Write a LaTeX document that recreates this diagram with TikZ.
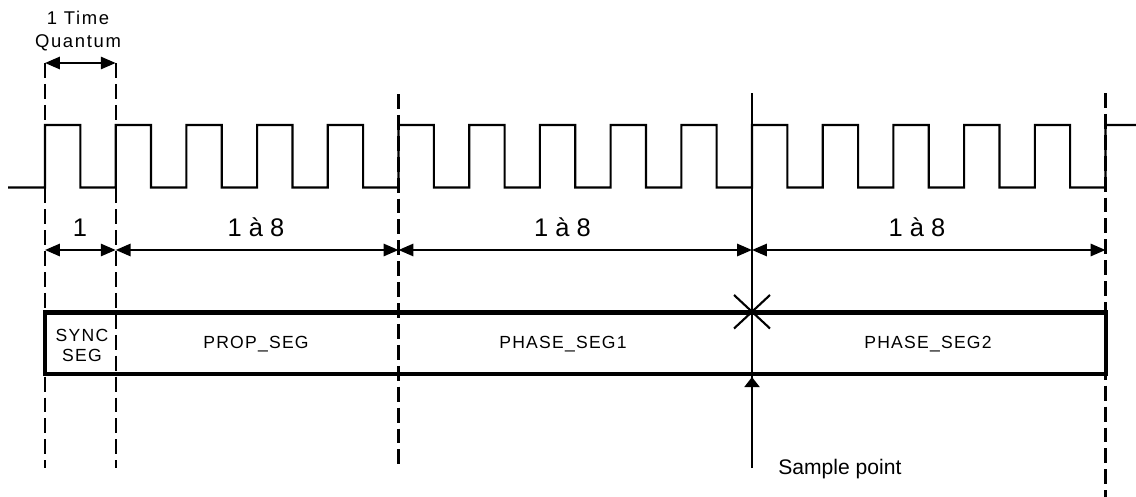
\documentclass[tikz,border=0pt]{standalone}
\usepackage{fontspec}
\setmainfont{Liberation Sans}
\newfontfamily\segfont[LetterSpace=7]{Liberation Sans}
\newfontfamily\tqfont[LetterSpace=9]{Liberation Sans}
\usetikzlibrary{arrows.meta}
\begin{document}
\begin{tikzpicture}[x=0.02cm,y=-0.02cm,
				every node/.style={inner sep=0pt},
				wave/.style={line width=1.2pt},
				guide/.style={line width=1.2pt,dash pattern=on 8.5pt off 3.4pt},
				dim/.style={line width=1.2pt,{Triangle[length=8.5pt,width=7pt]}-{Triangle[length=8.5pt,width=7pt]}},
				frame/.style={line width=2.8pt},
				seglabel/.style={anchor=base,font=\segfont\fontsize{10}{11.7}\selectfont},
				count/.style={anchor=base,font=\fontsize{14.5}{16}\selectfont}]
\useasboundingbox (0,0) rectangle (1136,497);
\draw[wave] (8,187.5) -- (45,187.5)
	foreach \i in {0,...,14} { -- ({45+70.7*\i},125) -- ({80.35+70.7*\i},125)
		-- ({80.35+70.7*\i},187.5) -- ({115.7+70.7*\i},187.5) }
	-- (1105.5,125) -- (1136,125);
\draw[guide] (45,63) -- (45,468);
\draw[guide] (115.7,63) -- (115.7,468);
\draw[guide] (398.5,94) -- (398.5,468);
\draw[guide] (1105.5,93) -- (1105.5,497);
\draw[wave] (752,93) -- (752,468);
\coordinate (q0) at (45,63);
\coordinate (q1) at (115.7,63);
\coordinate (d0) at (45,250);
\coordinate (d1) at (115.7,250);
\coordinate (d2) at (398.5,250);
\coordinate (d3) at (752,250);
\coordinate (d4) at (1105.5,250);
\draw[dim] (q0) -- (q1);
\draw[dim] (d0) -- (d1);
\draw[dim] (d1) -- (d2);
\draw[dim] (d2) -- (d3);
\draw[dim] (d3) -- (d4);
\node[font=\tqfont\fontsize{10.5}{12.7}\selectfont,align=center] (tq) at (78,31) {1 Time\\Quantum};
\node[count] (n1) at (80,236) {1};
\node[count] (n2) at (256,236) {1 à 8};
\node[count] (n3) at (562.5,236) {1 à 8};
\node[count] (n4) at (917,236) {1 à 8};
\draw[frame] (45,312.5) rectangle (1106,374);
\node[seglabel,align=center,anchor=center] (sync) at (82,345.5) {SYNC\\SEG};
\node[seglabel] (prop) at (256,348.3) {PROP\_SEG};
\node[seglabel] (ph1) at (563,348.3) {PHASE\_SEG1};
\node[seglabel] (ph2) at (928,348.3) {PHASE\_SEG2};
\draw[wave] (734,295) -- (770,328.5) (734,328.5) -- (770,295);
\coordinate (sp0) at (752,468);
\coordinate (sp1) at (752,377);
\draw[wave,-{Triangle[length=5.7pt,width=8.5pt]}] (sp0) -- (sp1);
\node[anchor=base west,font=\fontsize{12}{14}\selectfont] (sp) at (778,474.3) {Sample point};
\end{tikzpicture}
\end{document}
